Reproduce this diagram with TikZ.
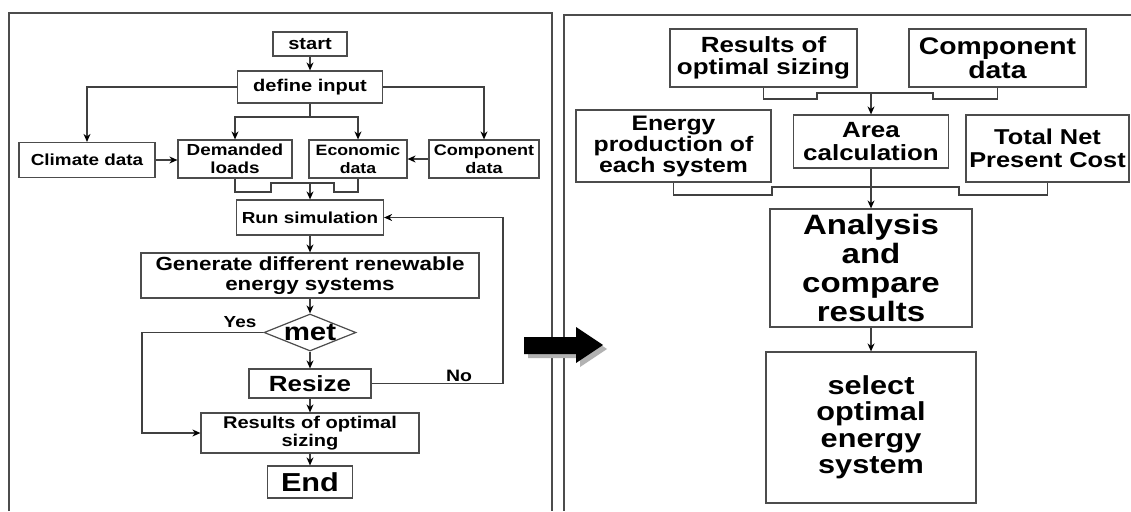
\documentclass[tikz,border=0pt]{standalone}
\usepackage{fontspec}
\setsansfont{Liberation Sans}[FakeStretch=1.18]
\usetikzlibrary{arrows.meta,positioning,shapes.geometric}

\begin{document}
\begin{tikzpicture}[
    x=1pt,y=-1pt,
    >={Stealth[length=8pt,width=7pt,black]},
    box/.style={draw=black!70,line width=1.2pt,fill=white,align=center,inner sep=0pt},
    sz/.style 2 args={minimum width=#1pt,minimum height=#2pt},
    fnt/.style 2 args={font=\sffamily\bfseries\fontsize{#1}{#2}\selectfont},
    conn/.style={draw=black!75,line width=1.1pt},
    frame/.style={draw=black!70,line width=1.2pt}
]
    \fill[white] (0,0) rectangle (1131,511);
    \useasboundingbox (0,0) rectangle (1131,511);

    % Frames
    \draw[frame] (9,511) -- (9,13) -- (552,13) -- (552,511);
    \draw[frame] (1131,15) -- (564,15) -- (564,511);

    % Left chart
    \node[box,sz={74}{24},fnt={17}{18}] (start) at (310,44) {start};
    \node[box,sz={145}{32},fnt={17}{18}] (defin) at (310,87) {define input};
    \node[box,sz={136}{35},fnt={16}{17.7}] (climate) at (87,160) {Climate data};
    \node[box,sz={114}{38},fnt={16}{17.7}] (demand) at (235,159) {Demanded\\loads};
    \node[box,sz={98}{38},fnt={15}{17.7}] (econ) at (358,159) {Economic\\data};
    \node[box,sz={110}{38},fnt={15.3}{17.7}] (comp) at (484,159) {Component\\data};
    \node[box,sz={147}{35},fnt={16}{17.7}] (runsim) at (310,217.5) {Run simulation};
    \node[box,sz={338}{45},fnt={19}{20.7}] (gen) at (310,275.5) {Generate different renewable\\energy systems};
    \node[box,diamond,sz={92}{37},label={[fnt={25}{26}]center:met}] (met) at (310,332.5) {};
    \node[box,sz={122}{29},fnt={22}{23}] (resize) at (310,383.5) {Resize};
    \node[box,sz={218}{40},fnt={17}{18.7}] (results) at (310,433) {Results of optimal\\sizing};
    \node[box,sz={85}{32},fnt={26}{27}] (endb) at (310,482) {End};
    \node[fnt={16}{17}] (yes) at (240,322) {Yes};
    \node[fnt={16.5}{17}] (no) at (459,376) {No};

    \coordinate (split) at (310,117);
    \coordinate (lj) at (310,183);

    \draw[conn,->] (start) -- (defin);
    \draw[conn,->] (defin.west) -| (climate.north);
    \draw[conn,->] (defin.east) -| (comp.north);
    \draw[conn,->] (defin.south) -- (split) -| (demand.north);
    \draw[conn,->] (split) -| (econ.north);
    \draw[conn,->] (climate.east) -- (climate.east -| demand.west);
    \draw[conn,->] (comp.west) -- (econ.east);
    \draw[conn] (demand.south) |- (271,192) |- (334,183) |- (358,192) -- (econ.south);
    \draw[conn,->] (lj) -- (runsim.north);
    \draw[conn,->] (runsim) -- (gen);
    \draw[conn,->] (gen) -- (met);
    \draw[conn,->] (met) -- (resize);
    \draw[conn,->] (resize) -- (results);
    \draw[conn,->] (results) -- (endb);
    \draw[conn,->] (met.west) -- (142,332.5) |- (results.west);
    \draw[conn,->] (resize.east) -- (503,383.5) |- (runsim.east);

    % Big arrow
    \fill[black!30] (528,341) -- (580,341) -- (580,331) -- (607,349) -- (580,367) -- (580,358) -- (528,358) -- cycle;
    \fill[black] (524,337) -- (576,337) -- (576,327) -- (603,345) -- (576,363) -- (576,354) -- (524,354) -- cycle;

    % Right chart
    \node[box,sz={187}{58},fnt={22}{22.7}] (ros) at (763.5,58) {Results of\\optimal sizing};
    \node[box,sz={177}{58},fnt={24}{23.7}] (rcomp) at (997.5,58) {Component\\data};
    \node[box,sz={195}{72},fnt={21}{21}] (energy) at (673.5,146) {Energy\\production of\\each system};
    \node[box,sz={155}{53},fnt={22}{23}] (area) at (871,141.5) {Area\\calculation};
    \node[box,sz={163}{67},fnt={21.5}{22.7}] (tnpc) at (1047.5,148.5) {Total Net\\Present Cost};
    \node[box,sz={202}{118},fnt={28}{29}] (analysis) at (871,268) {Analysis\\and\\compare\\results};
    \node[box,sz={210}{151},fnt={26}{26.5}] (select) at (871,427.5) {select\\optimal\\energy\\system};

    \coordinate (tj) at (871,93);

    \draw[conn] (ros.south) |- (817,99) |- (933,93) |- (997.5,99) -- (rcomp.south);
    \draw[conn,->] (tj) -- (area.north);
    \draw[conn] (energy.south) |- (772,195) |- (959,187) |- (1047.5,195) -- (tnpc.south);
    \draw[conn,->] (area) -- (analysis);
    \draw[conn,->] (analysis) -- (select);
\end{tikzpicture}
\end{document}
